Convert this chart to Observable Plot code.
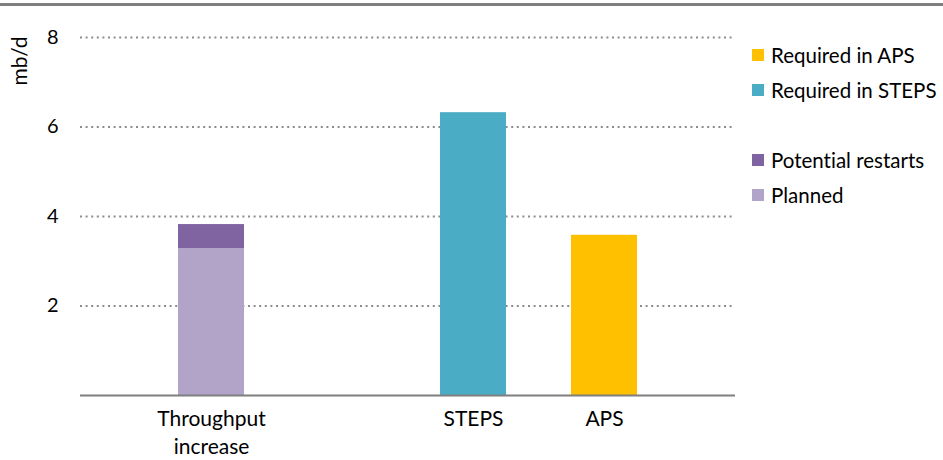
<!DOCTYPE html>
<html>
<head>
<meta charset="utf-8">
<script src="https://cdn.jsdelivr.net/npm/d3@7"></script>
<script src="https://cdn.jsdelivr.net/npm/@observablehq/plot@0.6"></script>
<style>
  html, body { margin: 0; padding: 0; background: #fff; }
  #wrap { position: relative; width: 943px; height: 460px; font-family: Lato, "Open Sans", sans-serif; color: #000; font-variant-ligatures: none; }
  #topline { position: absolute; left: 0; top: 3px; width: 943px; height: 3px; background: #7f7f7f; }
  #ylabel { position: absolute; left: 18px; top: 61px; transform: translate(-50%, -50%) rotate(-90deg); font-size: 21px; white-space: nowrap; }
  #legend { position: absolute; left: 752px; top: 0; font-size: 20.5px; }
  .item { position: absolute; left: 0; display: flex; align-items: center; white-space: nowrap; transform: translateY(-50%); }
  .sw { width: 12px; height: 12px; margin-right: 7px; flex: none; }
  svg { display: block; font-variant-ligatures: none; }
</style>
</head>
<body>
<div id="wrap">
  <div id="chart"></div>
  <div id="topline"></div>
  <div id="ylabel">mb/d</div>
  <div id="legend"></div>
</div>
<script>
// Categories on the x axis (a blank slot separates the two groups)
const categories = ["Throughput\nincrease", "STEPS", "APS"];
const xSlots = ["Throughput\nincrease", " ", "STEPS", "APS"];
// Series (stack order bottom -> top)
const seriesNames = ["Planned", "Potential restarts", "Required in STEPS", "Required in APS"];
const seriesColors = ["#b2a3c9", "#8064a2", "#4bacc6", "#ffc000"];
// Bars
const barCategory = ["Throughput\nincrease", "Throughput\nincrease", "STEPS", "APS"];
const barSeries = ["Planned", "Potential restarts", "Required in STEPS", "Required in APS"];
const barValue = [3.28, 0.54, 6.32, 3.58];
// Y ticks
const yTicks = [2, 4, 6, 8];
// Legend layout order (top -> bottom) with blank gap
const legendOrder = ["Required in APS", "Required in STEPS", "Potential restarts", "Planned"];
const legendY = [55, 90, 160, 195];

const data = barValue.map((v, i) => ({category: barCategory[i], series: barSeries[i], value: v}));

const chart = Plot.plot({
  width: 943,
  height: 460,
  marginLeft: 80,
  marginRight: 208,
  marginTop: 37,
  marginBottom: 65,
  style: {fontFamily: "Lato, 'Open Sans', sans-serif", fontSize: "21px", color: "#000", background: "#fff"},
  x: {type: "band", domain: xSlots, paddingInner: 0.496, paddingOuter: 0.74},
  y: {domain: [0, 8]},
  color: {domain: seriesNames, range: seriesColors},
  marks: [
    Plot.gridY(yTicks, {stroke: "#8c8c8c", strokeOpacity: 1, strokeWidth: 2, strokeDasharray: "2,3.6"}),
    Plot.barY(data, {x: "category", y: "value", fill: "series"}),
    Plot.ruleY([0], {stroke: "#7f7f7f", strokeWidth: 2}),
    Plot.axisY(yTicks, {tickSize: 0, tickPadding: 22, fontSize: 20, label: null}),
    Plot.axisX(categories, {tickSize: 0, tickPadding: 11, fontSize: 21, lineHeight: 1.32, label: null})
  ]
});
document.getElementById("chart").appendChild(chart);

const legend = document.getElementById("legend");
legendOrder.forEach((name, i) => {
  const it = document.createElement("div");
  it.className = "item";
  it.style.top = legendY[i] + "px";
  const sw = document.createElement("div");
  sw.className = "sw";
  sw.style.background = seriesColors[seriesNames.indexOf(name)];
  const tx = document.createElement("span");
  tx.textContent = name;
  it.appendChild(sw); it.appendChild(tx);
  legend.appendChild(it);
});
</script>
</body>
</html>
